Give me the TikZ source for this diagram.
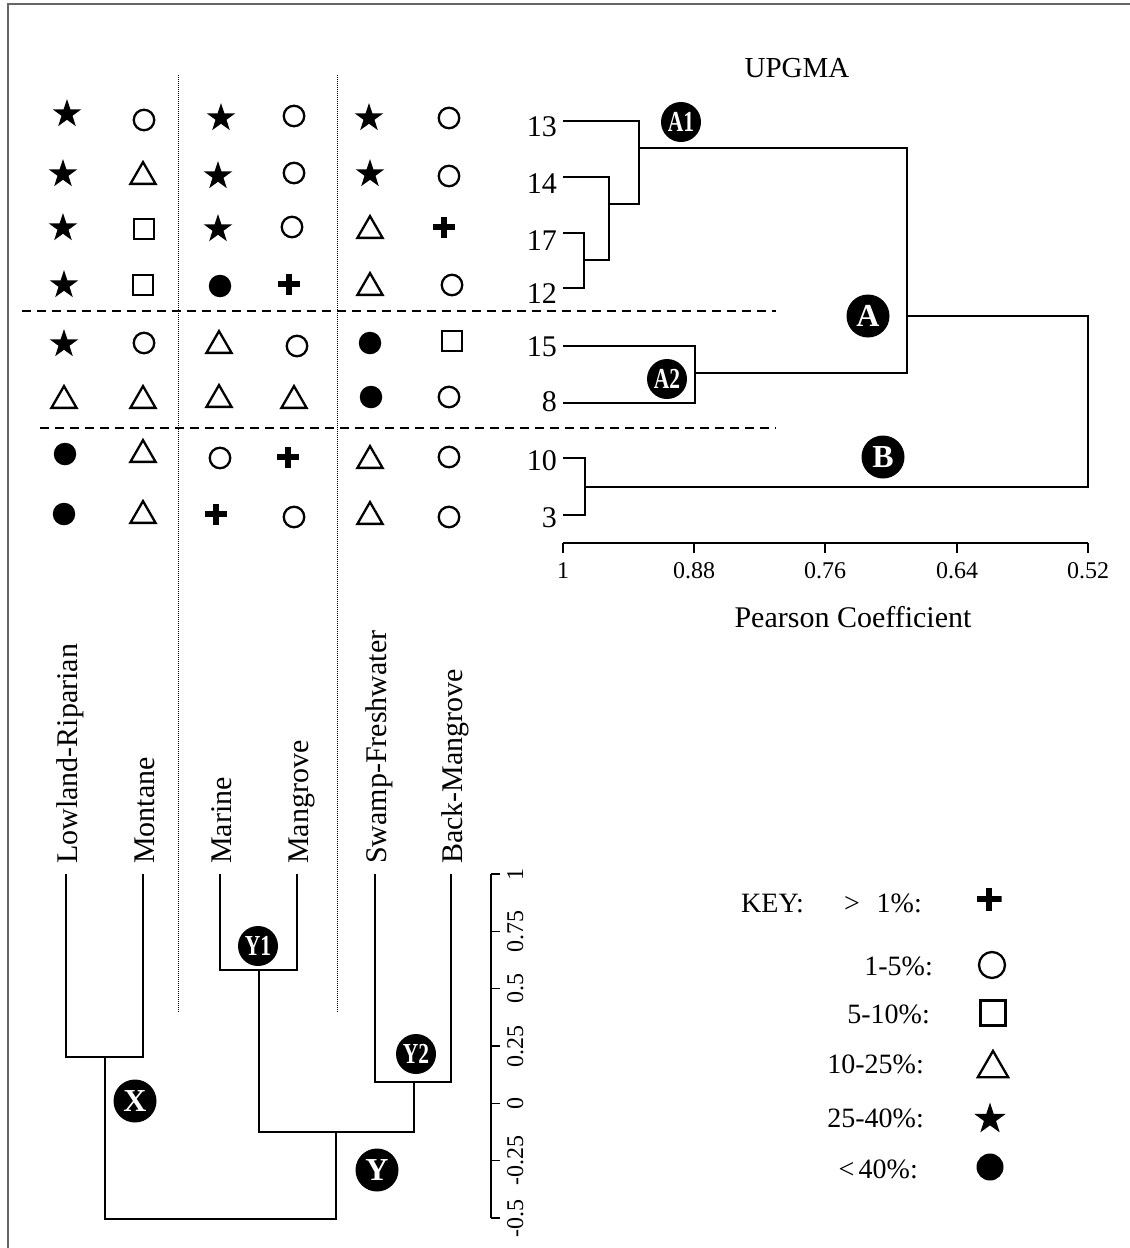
\documentclass[tikz,border=0pt]{standalone}
\usepackage{fontspec}
\usepackage{graphicx}
\setmainfont{Liberation Serif}
\usetikzlibrary{shapes.geometric}
\newcommand\fsz[1]{\fontsize{#1}{#1}\selectfont}
\newcommand\nlab[1]{\scalebox{0.74}[1]{#1}}
\begin{document}
\begin{tikzpicture}[x=1pt,y=-1pt,
  tree/.style={line width=1.4pt, line join=miter},
  frameline/.style={line width=2pt, draw=black!60},
  sepdash/.style={line width=1.3pt, dash pattern=on 9pt off 6pt},
  sepdot/.style={line width=1pt, dash pattern=on 1pt off 1pt},
  sstar/.style={star, star points=5, star point ratio=2.6, fill=black, draw=none, minimum size=30pt, inner sep=0pt, yshift=-1pt},
  scirc/.style={circle, draw, line width=2.3pt, minimum size=20.5pt, inner sep=0pt},
  sdot/.style={circle, fill=black, minimum size=22.5pt, inner sep=0pt},
  ssq/.style={rectangle, draw, line width=2.3pt, minimum size=20pt, inner sep=0pt},
  stri/.style={regular polygon, regular polygon sides=3, draw, line width=2.3pt, minimum size=29pt, inner sep=0pt, yshift=-3.6pt},
  splus/.style={rectangle, minimum width=22pt, minimum height=21pt, inner sep=0pt,
    path picture={
      \fill ([xshift=-3.2pt]path picture bounding box.north) rectangle ([xshift=3.2pt]path picture bounding box.south);
      \fill ([yshift=-3.2pt]path picture bounding box.west) rectangle ([yshift=3.2pt]path picture bounding box.east);}},
  lab/.style={circle, fill=black, text=white, inner sep=0pt, minimum size=43pt, font=\fsz{32}\bfseries},
  lab2/.style={circle, fill=black, text=white, inner sep=0pt, minimum size=40pt, font=\fsz{29}\bfseries},
  leaf/.style={anchor=east, font=\fsz{30}, inner sep=0pt},
  tick/.style={anchor=base, font=\fsz{24}, inner sep=0pt},
  hab/.style={anchor=base west, rotate=90, font=\fsz{30}, inner sep=0pt},
  keyt/.style={anchor=base east, font=\fsz{28}, inner sep=0pt}
]
\useasboundingbox (0,0) rectangle (1130,1248);
\fill[white] (0,0) rectangle (1130,1248);

% frame
\draw[frameline] (8,1248) -- (8,4) -- (1130,4);

% separators
\draw[sepdot] (178,75) -- (178,1012);
\draw[sepdot] (337,75) -- (337,1013);
\draw[sepdash] (22,311) -- (776,311);
\draw[sepdash] (40,428) -- (776,428);

% symbol grid
\node[sstar] (g11) at (67,113) {};
\node[scirc] (g12) at (144,120) {};
\node[sstar] (g13) at (221,117) {};
\node[scirc] (g14) at (294,116) {};
\node[sstar] (g15) at (369,117) {};
\node[scirc] (g16) at (449,118) {};

\node[sstar] (g21) at (63,173) {};
\node[stri]  (g22) at (143,173) {};
\node[sstar] (g23) at (218,175) {};
\node[scirc] (g24) at (294,173) {};
\node[sstar] (g25) at (370,173) {};
\node[scirc] (g26) at (449,176) {};

\node[sstar] (g31) at (63,227) {};
\node[ssq]   (g32) at (144,229) {};
\node[sstar] (g33) at (218,228) {};
\node[scirc] (g34) at (292,227) {};
\node[stri]  (g35) at (370,227) {};
\node[splus] (g36) at (444,227) {};

\node[sstar] (g41) at (64,284) {};
\node[ssq]   (g42) at (143,285) {};
\node[sdot]  (g43) at (220,286) {};
\node[splus] (g44) at (289,284) {};
\node[stri]  (g45) at (370,284) {};
\node[scirc] (g46) at (452,285) {};

\node[sstar] (g51) at (64,343) {};
\node[scirc] (g52) at (144,343) {};
\node[stri]  (g53) at (219,342) {};
\node[scirc] (g54) at (297,346) {};
\node[sdot]  (g55) at (370,343) {};
\node[ssq]   (g56) at (452,341) {};

\node[stri]  (g61) at (64,397) {};
\node[stri]  (g62) at (143,397) {};
\node[stri]  (g63) at (219,396) {};
\node[stri]  (g64) at (294,397) {};
\node[sdot]  (g65) at (371,397) {};
\node[scirc] (g66) at (449,397) {};

\node[sdot]  (g71) at (65,454) {};
\node[stri]  (g72) at (143,451) {};
\node[scirc] (g73) at (220,458) {};
\node[splus] (g74) at (288,457) {};
\node[stri]  (g75) at (370,457) {};
\node[scirc] (g76) at (449,457) {};

\node[sdot]  (g81) at (64,514) {};
\node[stri]  (g82) at (143,512) {};
\node[splus] (g83) at (216,514) {};
\node[scirc] (g84) at (294,517) {};
\node[stri]  (g85) at (370,513) {};
\node[scirc] (g86) at (449,517) {};

% ---------- UPGMA dendrogram ----------
\node[font=\fsz{29}, anchor=base, inner sep=0pt] (title) at (797,77) {UPGMA};

\node[leaf] (n13) at (557,127) {13};
\node[leaf] (n14) at (557,184) {14};
\node[leaf] (n17) at (557,241) {17};
\node[leaf] (n12) at (557,294) {12};
\node[leaf] (n15) at (557,347) {15};
\node[leaf] (n8)  at (557,402) {8};
\node[leaf] (n10) at (557,461) {10};
\node[leaf] (n3)  at (557,518) {3};

\coordinate (L13) at (563,121);
\coordinate (L14) at (563,177);
\coordinate (L17) at (563,233);
\coordinate (L12) at (563,288);
\coordinate (L15) at (563,346);
\coordinate (L8)  at (563,403);
\coordinate (L10) at (563,458);
\coordinate (L3)  at (563,515);
\coordinate (J1712) at (584,260);
\coordinate (J14) at (609,204);
\coordinate (JA1) at (639,148);
\coordinate (JA2) at (695,373);
\coordinate (JB)  at (585,487);
\coordinate (JA)  at (907,316);
\coordinate (JR)  at (1088,0);

\draw[tree] (L17) -| (J1712) |- (L12);
\draw[tree] (J1712) -| (L14 -| J14) -- (L14);
\draw[tree] (J14) -| (L13 -| JA1) -- (L13);
\draw[tree] (JA1) -| (JA2 -| JA) -- (JA2);
\draw[tree] (L15) -| (L8 -| JA2) -- (L8);
\draw[tree] (L10) -| (L3 -| JB) -- (L3);
\draw[tree] (JA) -| (JB -| JR) -- (JB);

% axis
\coordinate (ax1) at (563,543);
\coordinate (ax2) at (1088,543);
\draw[tree] (ax1) -- (ax2);
\foreach \x/\v in {563/1, 694/0.88, 825/0.76, 957/0.64, 1088/0.52}{
  \draw[tree] (\x,543) -- (\x,553);
  \node[tick] at (\x,578) {\v};
}
\node[font=\fsz{30}, anchor=base, inner sep=0pt] (pc) at (853,627) {Pearson Coefficient};

% cluster labels
\node[lab2] (A1) at (681,122) {\nlab{A1}};
\node[lab]  (A)  at (868,316) {A};
\node[lab2] (A2) at (667,379) {\nlab{A2}};
\node[lab]  (B)  at (883,457) {B};

% ---------- habitat dendrogram ----------
\node[hab] (h1) at (77,864) {Lowland-Riparian};
\node[hab] (h2) at (154,864) {Montane};
\node[hab] (h3) at (231,864) {Marine};
\node[hab] (h4) at (308,864) {Mangrove};
\node[hab] (h5) at (386,864) {Swamp-Freshwater};
\node[hab] (h6) at (462,864) {Back-Mangrove};

\coordinate (Blow) at (66,874);
\coordinate (Bmon) at (143,874);
\coordinate (Bmar) at (220,874);
\coordinate (Bman) at (297,874);
\coordinate (Bswa) at (375,874);
\coordinate (Bbac) at (451,874);
\coordinate (JX)  at (105,1057);
\coordinate (JY1) at (259,970);
\coordinate (JY2) at (414,1082);
\coordinate (JYb) at (336,1132);
\coordinate (JYr) at (336,1219);

\draw[tree] (Blow) |- (JX) -| (Bmon);
\draw[tree] (Bmar) |- (JY1) -| (Bman);
\draw[tree] (Bswa) |- (JY2) -| (Bbac);
\draw[tree] (JY1) |- (JYb) -| (JY2);
\draw[tree] (JX) |- (JYr) -- (JYb);

% vertical axis
\coordinate (bx1) at (491,874);
\coordinate (bx2) at (491,1218);
\draw[tree] (bx1) -- (bx2);
\foreach \y/\v in {874/1, 931.3/0.75, 988.7/0.5, 1046/0.25, 1103.3/0, 1160.7/-0.25, 1218/-0.5}{
  \draw[tree] (491,\y) -- (500,\y);
  \node[tick, rotate=90] at (523,\y) {\v};
}

\node[lab2] (Y1) at (258,946) {\nlab{Y1}};
\node[lab2] (Y2) at (416,1054) {\nlab{Y2}};
\node[lab]  (X)  at (135,1101) {X};
\node[lab]  (Y)  at (377,1170) {Y};

% ---------- key ----------
\node[font=\fsz{28}, anchor=base west, inner sep=0pt] (key) at (741,912) {KEY:};
\node[keyt] (k1) at (922,912) {>\hspace{0.6em}1\%:};
\node[keyt] (k2) at (933,975) {1-5\%:};
\node[keyt] (k3) at (930,1023) {5-10\%:};
\node[keyt] (k4) at (924,1073) {10-25\%:};
\node[keyt] (k5) at (924,1127) {25-40\%:};
\node[keyt] (k6) at (918,1178) {<\hspace{0.15em}40\%:};

\node[splus, minimum width=25pt, minimum height=23pt] (ks1) at (989,899) {};
\node[scirc, minimum size=26pt] (ks2) at (992,965) {};
\node[ssq, minimum size=25pt] (ks3) at (993,1013) {};
\node[stri, minimum size=35pt, yshift=-0.8pt] (ks4) at (993,1064) {};
\node[sstar, minimum size=33pt] (ks5) at (990,1118) {};
\node[sdot, minimum size=27pt] (ks6) at (990,1167) {};

\end{tikzpicture}
\end{document}
